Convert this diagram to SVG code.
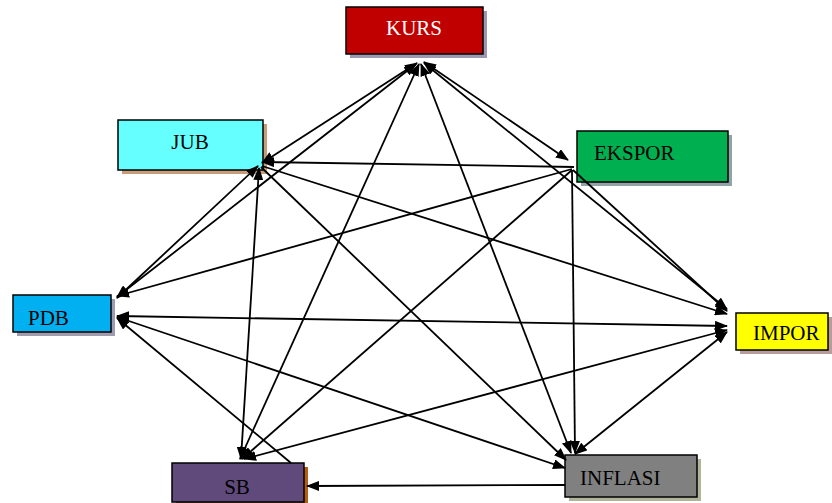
<svg xmlns="http://www.w3.org/2000/svg" width="832" height="503" viewBox="0 0 832 503">
  <style>
    .box { stroke: #000; stroke-width: 1.5; }
    .lbl { font-family: "Liberation Serif", "Times New Roman", serif; font-size: 21px; fill: #000; }
    .edge line { stroke: #000; stroke-width: 1.8; fill: none; }
  </style>
  <defs>
    <marker id="ah" viewBox="0 0 13 10" refX="12" refY="5" markerWidth="13" markerHeight="10" markerUnits="userSpaceOnUse" orient="auto-start-reverse">
      <path d="M0,0 L13,5 L0,10 z" fill="#000"/>
    </marker>
  </defs>
  <rect width="832" height="503" fill="#fff"/>

  <g id="node-kurs">
    <rect x="350" y="11" width="137" height="47" fill="#9c98b0"/>
    <rect class="box" x="346" y="7" width="137" height="47" fill="#c00000"/>
    <text class="lbl" x="414" y="35" text-anchor="middle" style="fill:#fff">KURS</text>
  </g>
  <g id="node-jub">
    <rect x="122" y="124" width="145" height="50" fill="#c89c78"/>
    <rect class="box" x="118" y="120" width="145" height="50" fill="#66ffff"/>
    <text class="lbl" x="190" y="149" text-anchor="middle">JUB</text>
  </g>
  <g id="node-ekspor">
    <rect x="581" y="135" width="151" height="51" fill="#90a4a8"/>
    <rect class="box" x="577" y="131" width="151" height="51" fill="#00b050"/>
    <text class="lbl" x="594" y="160">EKSPOR</text>
  </g>
  <g id="node-pdb">
    <rect x="17" y="299" width="98" height="37" fill="#a09cb0"/>
    <rect class="box" x="13" y="295" width="98" height="37" fill="#00b0f0"/>
    <text class="lbl" x="28" y="325">PDB</text>
  </g>
  <g id="node-impor">
    <rect x="740" y="317" width="92" height="37" fill="#b89c9c"/>
    <rect class="box" x="736" y="313" width="92" height="37" fill="#ffff00"/>
    <text class="lbl" x="753" y="340">IMPOR</text>
  </g>
  <g id="node-sb">
    <rect x="176" y="467" width="132" height="40" fill="#b06010"/>
    <rect class="box" x="172" y="463" width="132" height="39" fill="#604a7b"/>
    <text class="lbl" x="237" y="494" text-anchor="middle">SB</text>
  </g>
  <g id="node-inflasi">
    <rect x="569" y="459" width="132" height="42" fill="#b0b498"/>
    <rect class="box" x="565" y="455" width="132" height="42" fill="#808080"/>
    <text class="lbl" x="580" y="485">INFLASI</text>
  </g>

  <g id="connectors" class="edge">
    <!-- KURS links -->
    <line x1="262" y1="163" x2="417" y2="63" marker-start="url(#ah)" marker-end="url(#ah)"/>
    <line x1="117" y1="297" x2="416" y2="64" marker-start="url(#ah)" marker-end="url(#ah)"/>
    <line x1="424" y1="62" x2="568" y2="160" marker-start="url(#ah)" marker-end="url(#ah)"/>
    <line x1="424" y1="63" x2="727" y2="309" marker-start="url(#ah)" marker-end="url(#ah)"/>
    <line x1="421" y1="64" x2="571" y2="453" marker-start="url(#ah)" marker-end="url(#ah)"/>
    <line x1="419" y1="64" x2="240" y2="459" marker-start="url(#ah)" marker-end="url(#ah)"/>
    <!-- JUB links -->
    <line x1="574" y1="167" x2="262" y2="162" marker-end="url(#ah)"/>
    <line x1="262" y1="166" x2="727" y2="314" marker-end="url(#ah)"/>
    <line x1="261" y1="167" x2="566" y2="460" marker-end="url(#ah)"/>
    <line x1="259" y1="168" x2="241" y2="459" marker-start="url(#ah)" marker-end="url(#ah)"/>
    <line x1="258" y1="166" x2="117" y2="298" marker-start="url(#ah)" marker-end="url(#ah)"/>
    <!-- EKSPOR links -->
    <line x1="572" y1="169" x2="117" y2="296" marker-end="url(#ah)"/>
    <line x1="572" y1="170" x2="242" y2="459" marker-end="url(#ah)"/>
    <line x1="573" y1="170" x2="727" y2="311" marker-end="url(#ah)"/>
    <line x1="572" y1="170" x2="575" y2="453" marker-end="url(#ah)"/>
    <!-- PDB links -->
    <line x1="117" y1="316" x2="727" y2="326" marker-start="url(#ah)" marker-end="url(#ah)"/>
    <line x1="117" y1="317" x2="565" y2="468" marker-start="url(#ah)" marker-end="url(#ah)"/>
    <line x1="291" y1="463" x2="117" y2="318" marker-end="url(#ah)"/>
    <!-- SB / INFLASI / IMPOR links -->
    <line x1="244" y1="459" x2="727" y2="330" marker-start="url(#ah)" marker-end="url(#ah)"/>
    <line x1="565" y1="485" x2="307" y2="486" marker-end="url(#ah)"/>
    <line x1="575" y1="454" x2="727" y2="332" marker-start="url(#ah)" marker-end="url(#ah)"/>
  </g>
</svg>
